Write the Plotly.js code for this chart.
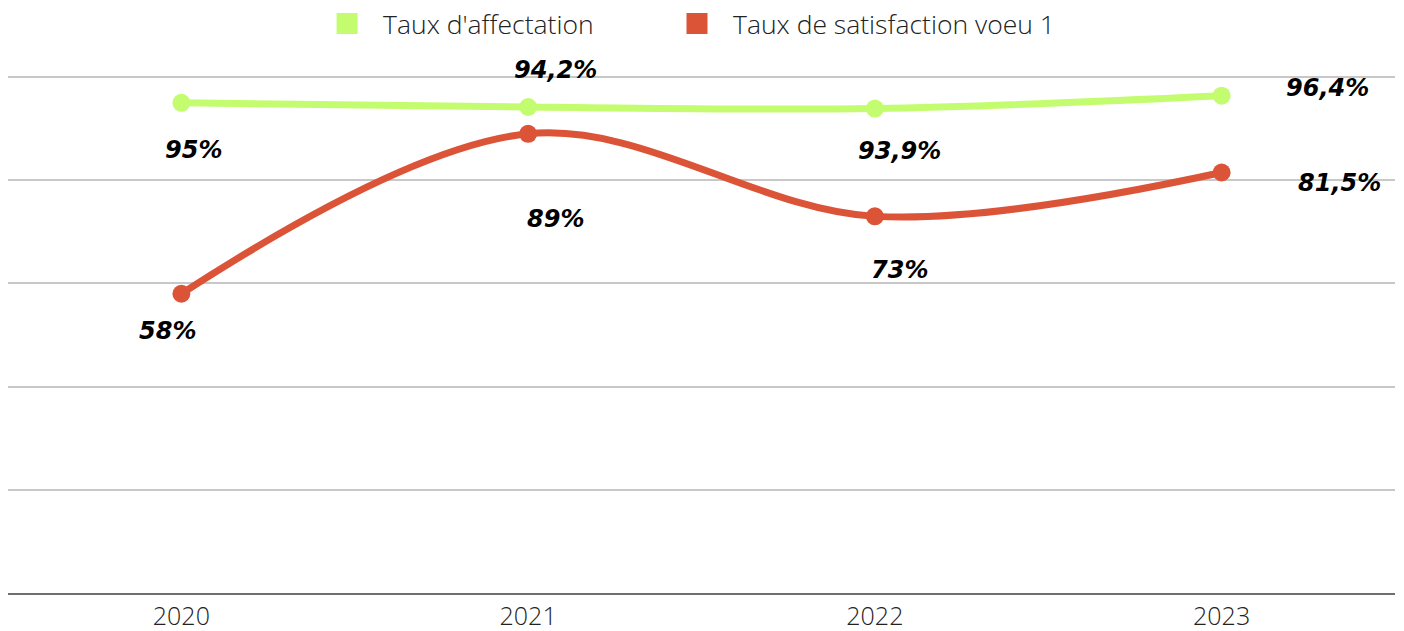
<!DOCTYPE html>
<html>
<head>
<meta charset="utf-8">
<script src="https://cdn.plot.ly/plotly-3.0.1.min.js"></script>
<style>html,body{margin:0;padding:0;background:#fff;}#chart{width:1404px;height:631px;}</style>
</head>
<body>
<div id="chart"></div>
<script>
const years = ["2020", "2021", "2022", "2023"];
const affectation = [95, 94.2, 93.9, 96.4];
const satisfaction = [58, 89, 73, 81.5];
const affectationLabels = ["95%", "94,2%", "93,9%", "96,4%"];
const satisfactionLabels = ["58%", "89%", "73%", "81,5%"];
const seriesNames = ["Taux d'affectation", "Taux de satisfaction voeu 1"];

const green = "#c4fc70";
const red = "#dc5438";

// label offsets (styling)
const affOffsets = [[12, -47], [27, 37], [25, -42], [106, 8]];
const satOffsets = [[-14, -37], [27, -85], [25, -54], [118, -10]];

const traces = [
  {x: years, y: affectation, mode: "lines+markers", line: {color: green, width: 7, shape: "spline"},
   marker: {color: green, size: 18}, showlegend: false, hoverinfo: "skip"},
  {x: years, y: satisfaction, mode: "lines+markers", line: {color: red, width: 7, shape: "spline"},
   marker: {color: red, size: 18}, showlegend: false, hoverinfo: "skip"},
  {x: [null], y: [null], mode: "markers", name: seriesNames[0], legend: "legend",
   marker: {color: green, size: 18, symbol: "square", line: {color: green, width: 5}}},
  {x: [null], y: [null], mode: "markers", name: seriesNames[1], legend: "legend2",
   marker: {color: red, size: 18, symbol: "square", line: {color: red, width: 5}}}
];

const annotations = [];
years.forEach((yr, i) => {
  annotations.push({xref: "x", yref: "y", x: i, y: affectation[i], text: "<b><i>" + affectationLabels[i] + "</i></b>", showarrow: false,
    xshift: affOffsets[i][0], yshift: affOffsets[i][1], font: {family: "DejaVu Sans", size: 24, color: "#000"}});
  annotations.push({xref: "x", yref: "y", x: i, y: satisfaction[i], text: "<b><i>" + satisfactionLabels[i] + "</i></b>", showarrow: false,
    xshift: satOffsets[i][0], yshift: satOffsets[i][1], font: {family: "DejaVu Sans", size: 24, color: "#000"}});
});

const legendStyle = {orientation: "h", y: 1.099, yanchor: "middle", xanchor: "left",
  font: {size: 26.5, color: "#222", family: "Open Sans", weight: 300}, itemwidth: 62,
  bgcolor: "rgba(0,0,0,0)", borderwidth: 0};

const layout = {
  width: 1404, height: 631,
  margin: {l: 8, r: 9, t: 75, b: 38, autoexpand: false},
  paper_bgcolor: "#fff", plot_bgcolor: "#fff",
  font: {family: "Open Sans", color: "#222"},
  xaxis: {type: "category", range: [-0.5, 3.5], showgrid: false, zeroline: false,
    showline: true, linecolor: "#6e6e6e", linewidth: 2, ticks: "", ticklabelstandoff: 0,
    tickfont: {size: 25, color: "#222", family: "Open Sans", weight: 300}, fixedrange: true},
  yaxis: {range: [0, 100.4], tickvals: [20, 40, 60, 80, 100], showticklabels: false, showgrid: true, gridcolor: "#c8c8c8",
    gridwidth: 2, zeroline: false, fixedrange: true},
  legend: Object.assign({}, legendStyle, {x: 0.2185}),
  legend2: Object.assign({}, legendStyle, {x: 0.4708}),
  annotations: annotations,
  showlegend: true
};

Plotly.newPlot("chart", traces, layout, {displayModeBar: false, staticPlot: true});
</script>
</body>
</html>
